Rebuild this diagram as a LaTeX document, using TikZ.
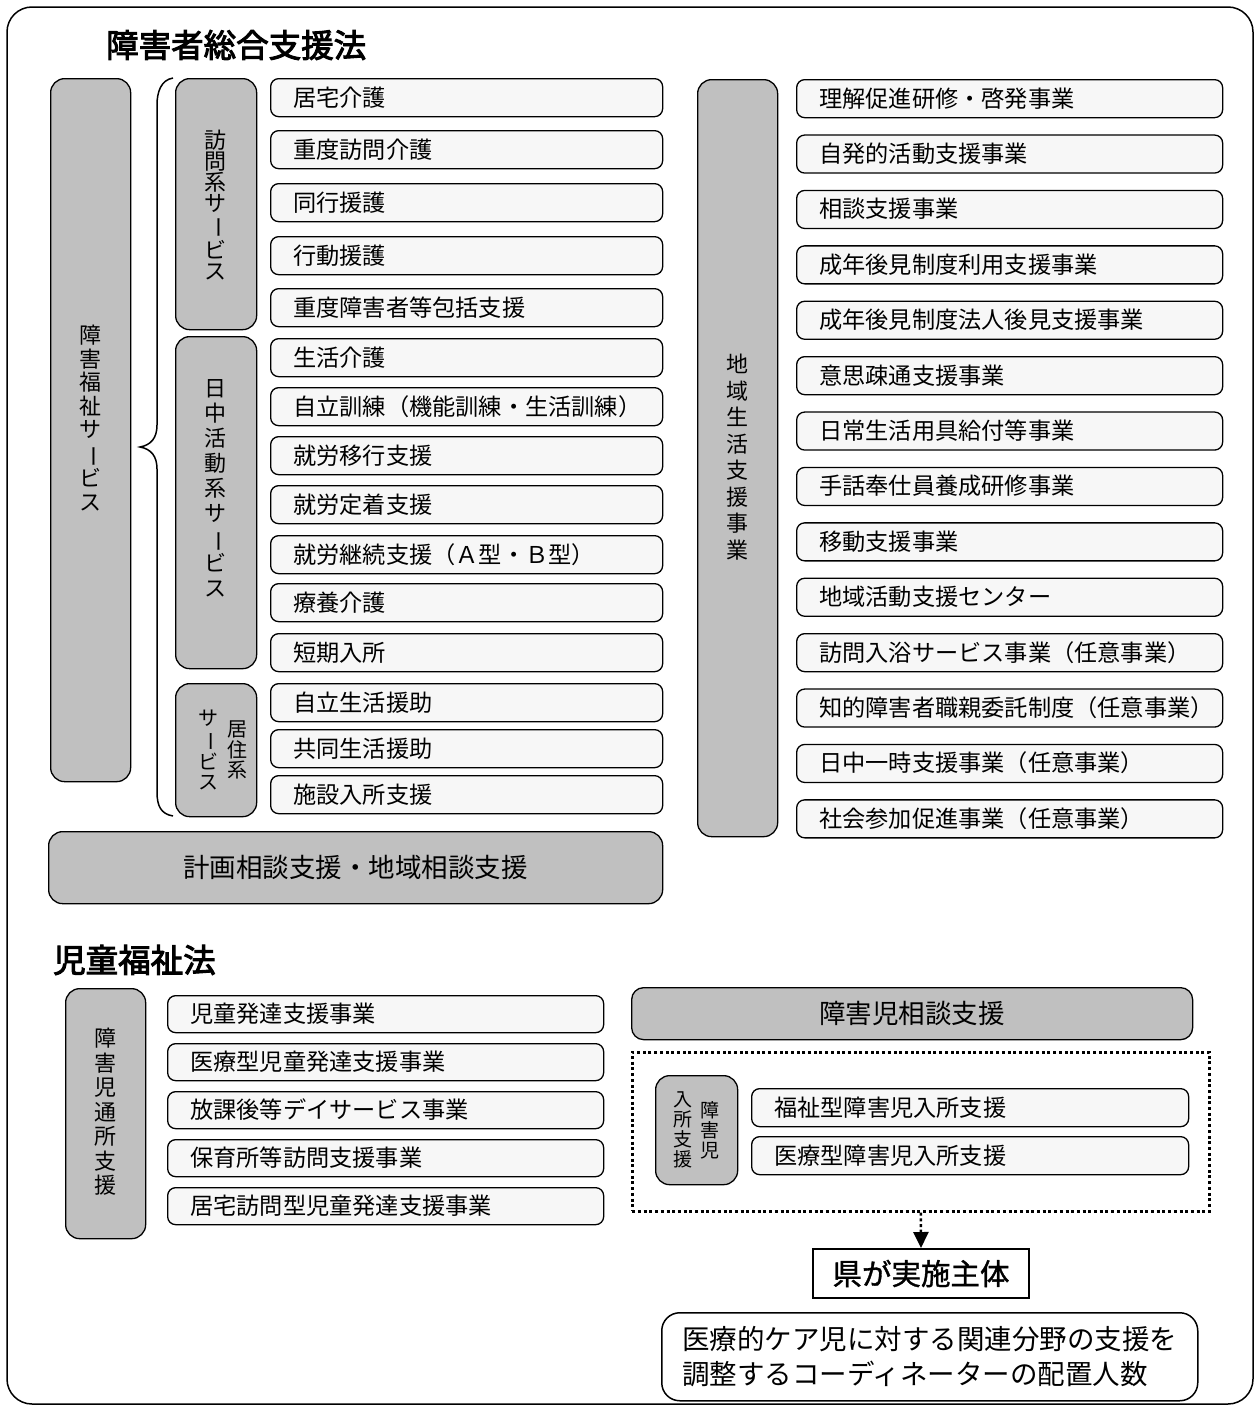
\documentclass[tikz,border=0pt]{standalone}
\usepackage{fontspec}
\usepackage{graphicx}
\setmainfont{Noto Sans CJK JP}
\newfontfamily\titlefont[FakeBold=3]{Noto Sans CJK JP}
\newfontfamily\kenfont[FakeBold=1.2]{Noto Sans CJK JP}
\usetikzlibrary{arrows.meta}
\definecolor{boxgray}{HTML}{C0C0C0}
\definecolor{boxwhite}{HTML}{F7F7F7}
\newcommand\vbar{\rotatebox[origin=c]{-90}{ー}}
\newcommand\wbx[6]{%
  \node[wb, anchor=north west, minimum width=#4pt, minimum height=#5pt] (#1) at (#2,#3) {};
  \node[txt, anchor=west] (#1t) at ([xshift=23pt]#1.west) {#6};}
\begin{document}
\begin{tikzpicture}[x=1pt,y=-1pt,
  gb/.style={draw, line width=1.3pt, fill=boxgray, rounded corners=14pt, inner sep=0pt},
  wb/.style={draw, line width=1.3pt, fill=boxwhite, rounded corners=8pt, inner sep=0pt},
  txt/.style={inner sep=0pt, font=\fontsize{23.2}{27}\selectfont, text height=20pt, text depth=3pt},
  bigtxt/.style={inner sep=0pt, font=\fontsize{26.5}{30}\selectfont},
  vstack/.style n args={2}{inner sep=0pt, align=center, font=\fontsize{#1}{#2}\selectfont},
  dotline/.style={dash pattern=on 3pt off 2.7pt, line width=2.6pt},
]
\useasboundingbox (0,0) rectangle (1258,1411);
% outer frame
\draw[line width=1.5pt, rounded corners=25pt] (7,7) rectangle (1253,1404);

% titles
\node[inner sep=0pt, anchor=west, font=\titlefont\fontsize{32.5}{36}\selectfont] (t1) at (106,45) {障害者総合支援法};
\node[inner sep=0pt, anchor=west, font=\titlefont\fontsize{32.5}{36}\selectfont] (t2) at (53,960) {児童福祉法};

% big gray: 障害福祉サービス
\node[gb, anchor=north west, minimum width=80pt, minimum height=703pt] (G1) at (50,78) {};
\node[vstack={22}{23.5}] (G1t) at (90,418) {障\\害\\福\\祉\\サ\\\vbar\\ビ\\ス};

% brace
\draw[line width=1.5pt] (173,78) .. controls (161,80) and (157,92) .. (157,105) -- (157,425)
  .. controls (157,438) and (151,445) .. (140,447) .. controls (151,449) and (157,456) .. (157,469)
  -- (157,792) .. controls (157,806) and (161,814) .. (173,816);

% category gray boxes
\node[gb, anchor=north west, minimum width=81pt, minimum height=251pt] (G2) at (175,78) {};
\node[vstack={22}{21}] (G2t) at (215,205) {訪\\問\\系\\サ\\\vbar\\ビ\\ス};
\node[gb, anchor=north west, minimum width=81pt, minimum height=332pt] (G3) at (175,336) {};
\node[vstack={22}{25}] (G3t) at (215,488) {日\\中\\活\\動\\系\\サ\\\vbar\\ビ\\ス};
\node[gb, anchor=north west, minimum width=81pt, minimum height=133pt] (G4) at (175,683) {};
\node[vstack={20}{20.5}] (G4a) at (237,750) {居\\住\\系};
\node[vstack={20}{20.5}] (G4b) at (208,750) {サ\\\vbar\\ビ\\ス};

% left service list
\foreach \n/\y/\t in {L1/78/居宅介護, L2/130/重度訪問介護, L3/183/同行援護, L4/236/行動援護,
  L5/288/重度障害者等包括支援, L6/338/生活介護, L7/387/自立訓練（機能訓練・生活訓練）,
  L8/436/就労移行支援, L9/485/就労定着支援, L10/535/就労継続支援（Ａ型・Ｂ型）,
  L11/583/療養介護, L12/633/短期入所, L13/683/自立生活援助, L14/729/共同生活援助, L15/775/施設入所支援}
  {\wbx{\n}{270}{\y}{392}{38}{\t}}

% 計画相談支援
\node[gb, anchor=north west, minimum width=614pt, minimum height=72pt] (P) at (48,831) {};
\node[bigtxt] (Pt) at (P.center) {計画相談支援・地域相談支援};

% 地域生活支援事業
\node[gb, anchor=north west, minimum width=80pt, minimum height=757pt] (G5) at (697,79) {};
\node[vstack={22}{26.5}] (G5t) at (737,457) {地\\域\\生\\活\\支\\援\\事\\業};

\foreach \t [count=\i from 0] in {理解促進研修・啓発事業, 自発的活動支援事業, 相談支援事業,
  成年後見制度利用支援事業, 成年後見制度法人後見支援事業, 意思疎通支援事業,
  日常生活用具給付等事業, 手話奉仕員養成研修事業, 移動支援事業, 地域活動支援センター,
  訪問入浴サービス事業（任意事業）, 知的障害者職親委託制度（任意事業）,
  日中一時支援事業（任意事業）, 社会参加促進事業（任意事業）}
  {\pgfmathsetmacro\yy{79+55.4*\i}\wbx{R\i}{796}{\yy}{426}{38}{\t}}

% 児童福祉法 section
\node[gb, anchor=north west, minimum width=80pt, minimum height=250pt] (G6) at (65,988) {};
\node[vstack={22}{24.5}] (G6t) at (105,1112) {障\\害\\児\\通\\所\\支\\援};
\foreach \t [count=\i from 0] in {児童発達支援事業, 医療型児童発達支援事業, 放課後等デイサービス事業,
  保育所等訪問支援事業, 居宅訪問型児童発達支援事業}
  {\pgfmathsetmacro\yy{995+48*\i}\wbx{C\i}{167}{\yy}{436}{37}{\t}}

\node[gb, rounded corners=12pt, anchor=north west, minimum width=561pt, minimum height=52pt] (S) at (631,987) {};
\node[bigtxt] (St) at (S.center) {障害児相談支援};

\node[draw, dotline, anchor=north west, minimum width=577pt, minimum height=159pt] (D) at (631,1051) {};
\node[gb, anchor=north west, minimum width=82pt, minimum height=109pt] (G7) at (655,1075) {};
\node[vstack={19}{20}] (G7a) at (710,1130) {障\\害\\児};
\node[vstack={19}{20}] (G7b) at (683,1130) {入\\所\\支\\援};
\wbx{F1}{751}{1088}{437}{38}{福祉型障害児入所支援}
\wbx{F2}{751}{1136}{437}{38}{医療型障害児入所支援}

\node[draw, line width=2pt, fill=white, anchor=north west, minimum width=216pt, minimum height=49pt] (K) at (812,1248) {};
\node[inner sep=0pt, font=\kenfont\fontsize{29.5}{33}\selectfont] (Kt) at (K.center) {県が実施主体};
\draw[dotline, -{Triangle[width=15pt,length=16pt]}] (D.south) -- (K.north);

\node[draw, line width=1.5pt, fill=white, rounded corners=18pt, anchor=north west, minimum width=536pt, minimum height=88pt] (B) at (661,1312) {};
\node[inner sep=0pt, align=left, font=\fontsize{27.5}{35}\selectfont] (Bt) at (B.center) {医療的ケア児に対する関連分野の支援を\\調整するコーディネーターの配置人数};
\end{tikzpicture}
\end{document}
